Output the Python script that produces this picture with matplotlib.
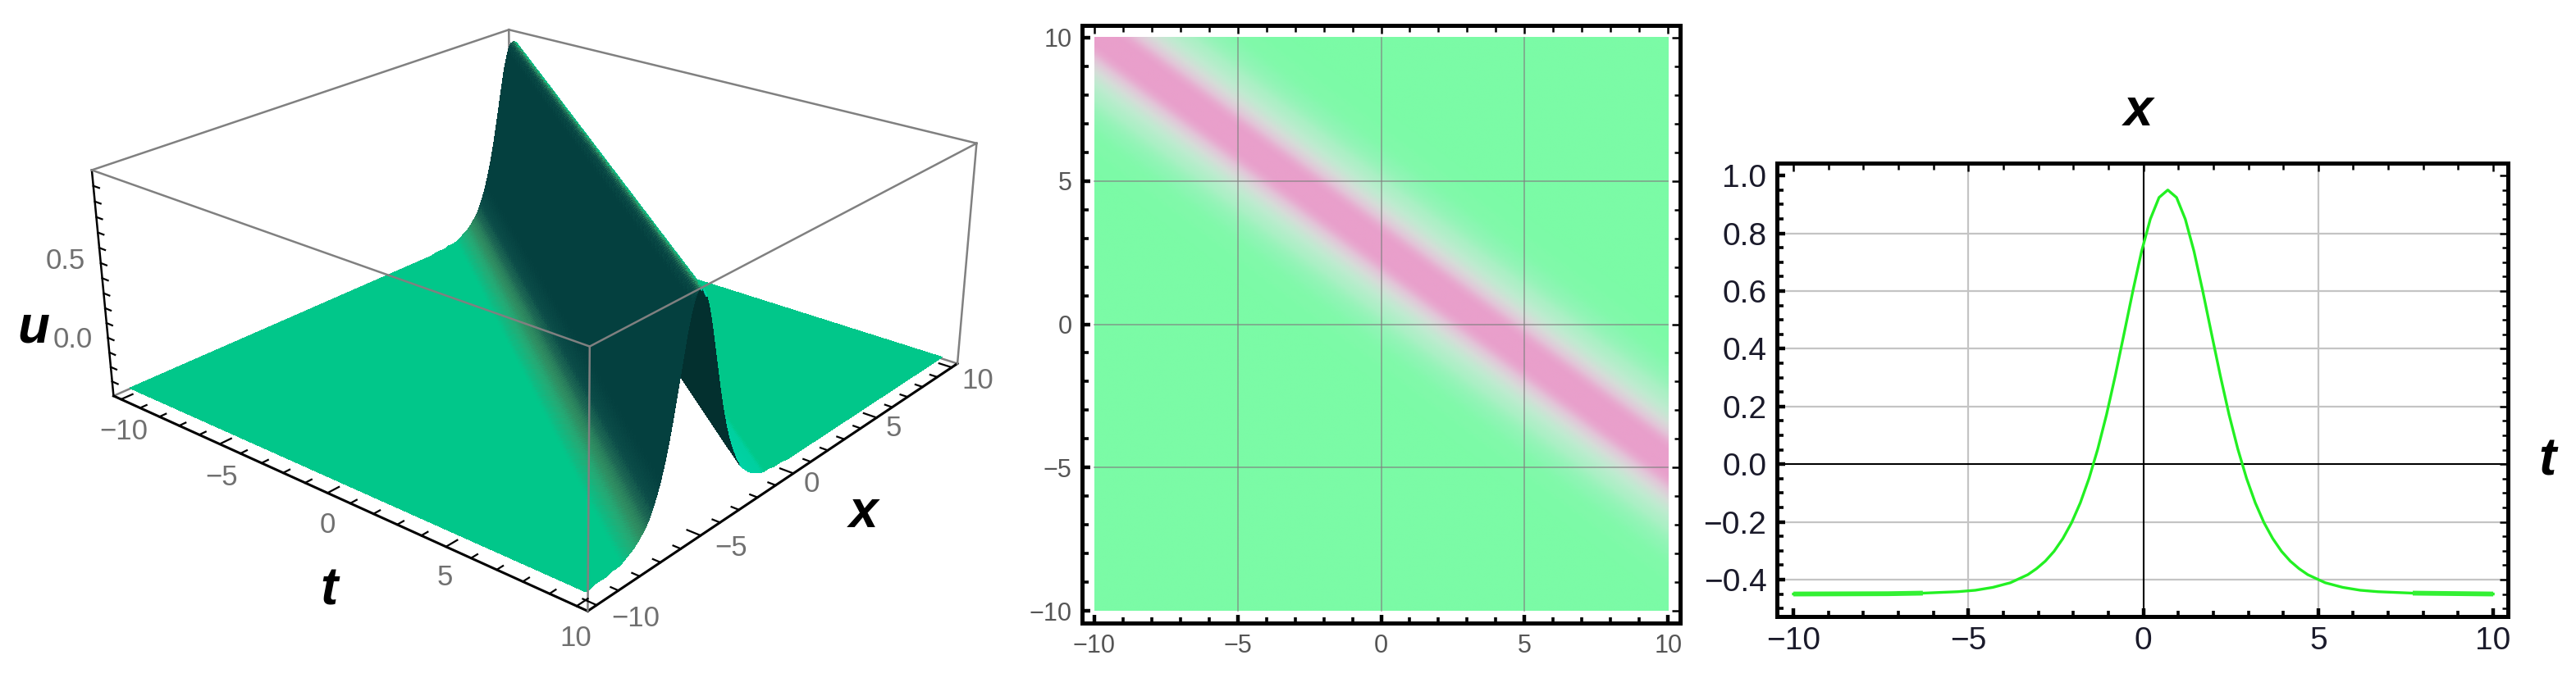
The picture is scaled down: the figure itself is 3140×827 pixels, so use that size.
import numpy as np
import matplotlib
matplotlib.use('Agg')
import matplotlib.pyplot as plt
from matplotlib.colors import LinearSegmentedColormap

plt.rcParams['font.family'] = ['Liberation Sans', 'DejaVu Sans']

W, H = 3140, 827

t_grid = np.arange(-10, 11)
x_grid = np.arange(-10, 11)
n = -.45
u_table = np.array([
    [n, n, n, n, n, n, n, n, n, n, n, n, n, n, n, n, n, n, n, n, n],  # x=-10
    [n, n, n, n, n, n, n, n, n, n, n, n, n, n, n, n, n, n, n, -.44, -.43],
    [n, n, n, n, n, n, n, n, n, n, n, n, n, n, n, n, n, n, -.44, -.43, -.38],
    [n, n, n, n, n, n, n, n, n, n, n, n, n, n, n, n, n, -.44, -.42, -.35, -.18],
    [n, n, n, n, n, n, n, n, n, n, n, n, n, n, n, -.44, -.43, -.40, -.31, -.08, .40],
    [n, n, n, n, n, n, n, n, n, n, n, n, n, n, -.44, -.43, -.38, -.26, .05, .60, .95],  # x=-5
    [n, n, n, n, n, n, n, n, n, n, n, n, n, -.44, -.42, -.35, -.18, .21, .78, .90, .40],
    [n, n, n, n, n, n, n, n, n, n, n, -.44, -.43, -.40, -.31, -.08, .40, .90, .78, .21, -.18],
    [n, n, n, n, n, n, n, n, n, n, -.44, -.43, -.38, -.26, .05, .60, .95, .60, .05, -.26, -.38],
    [n, n, n, n, n, n, n, n, -.45, -.44, -.42, -.35, -.18, .21, .78, .90, .40, -.08, -.31, -.40, -.43],
    [n, n, n, n, n, n, n, -.44, -.43, -.40, -.31, -.08, .40, .90, .78, .21, -.18, -.35, -.42, -.44, n],  # x=0
    [n, n, n, n, n, n, -.44, -.43, -.38, -.26, .05, .60, .95, .60, .05, -.26, -.38, -.43, -.44, n, n],
    [n, n, n, n, -.45, -.44, -.42, -.35, -.18, .21, .78, .90, .40, -.08, -.31, -.40, -.43, -.44, n, n, n],
    [n, n, n, -.44, -.43, -.40, -.31, -.08, .40, .90, .78, .21, -.18, -.35, -.42, -.44, n, n, n, n, n],
    [n, n, -.44, -.43, -.38, -.26, .05, .60, .95, .60, .05, -.26, -.38, -.43, -.44, n, n, n, n, n, n],
    [-.45, -.44, -.42, -.35, -.18, .21, .78, .90, .40, -.08, -.31, -.40, -.43, -.44, n, n, n, n, n, n, n],  # x=5
    [-.43, -.40, -.31, -.08, .40, .90, .78, .21, -.18, -.35, -.42, -.44, n, n, n, n, n, n, n, n, n],
    [-.38, -.26, .05, .60, .95, .60, .05, -.26, -.38, -.43, -.44, n, n, n, n, n, n, n, n, n, n],
    [-.18, .21, .78, .90, .40, -.08, -.31, -.40, -.43, -.44, n, n, n, n, n, n, n, n, n, n, n],
    [.40, .90, .78, .21, -.18, -.35, -.42, -.44, n, n, n, n, n, n, n, n, n, n, n, n, n],
    [.95, .60, .05, -.26, -.38, -.43, -.44, n, n, n, n, n, n, n, n, n, n, n, n, n, n],  # x=10
])

# where the ridge of the table enters and leaves the square
ridge_x = [-5, 10]
ridge_t = [10, -10]
ridge_shift = 0.25  # seen in the density plot, band sits a bit right of the table ridge

# slice shown on the right
t_curve = [-10, -7.3, -6.3, -5.3, -4.8, -4.3, -3.8, -3.3, -3.05, -2.8, -2.55, -2.3, -2.05, -1.8, -1.55, -1.3,
           -1.05, -.8, -.55, -.3, -.05, .2, .45, .7, .95, 1.2, 1.45, 1.7, 1.95, 2.2, 2.45, 2.7, 2.95, 3.2,
           3.45, 3.7, 3.95, 4.2, 4.45, 4.7, 5.2, 5.7, 6.2, 6.7, 7.7, 10]
u_curve = [-.45, -.449, -.447, -.442, -.437, -.427, -.411, -.383, -.362, -.336, -.302, -.258, -.203, -.134, -.049, .053,
           .172, .307, .452, .599, .737, .849, .924, .95, .924, .849, .737, .599, .452, .307, .172, .053, -.049, -.134,
           -.203, -.258, -.302, -.336, -.362, -.383, -.411, -.427, -.437, -.442, -.447, -.45]

major_ticks = [-10, -5, 0, 5, 10]
minor_ticks = list(range(-10, 11))
u_ticks = [-0.4, -0.2, 0.0, 0.2, 0.4, 0.6, 0.8, 1.0]
u_minor = [round(v * 0.05 - 0.5, 2) for v in range(31)]
z_ticks = [0.0, 0.5]
z_minor = [round(v * 0.1 - 0.4, 1) for v in range(14)]


def minus(v):
    return str(v).replace('-', '\u2212')


def place(x0, y0, x1, y1, **kw):
    return fig.add_axes([x0 / W, 1 - y1 / H, (x1 - x0) / W, (y1 - y0) / H], **kw)


def px_text(x, y, s, **kw):
    fig.text(x / W, 1 - y / H, s, **kw)


def frame(ax, size):
    for s in ax.spines.values():
        s.set_linewidth(3.6)
    ax.tick_params(which='major', direction='in', top=True, right=True, length=7.5, width=3.2,
                   labelsize=size, pad=9)
    ax.tick_params(which='minor', direction='in', top=True, right=True, length=5.4, width=2.6)
    # far sides carry thinner marks
    for axis in (ax.xaxis, ax.yaxis):
        for tick in axis.get_major_ticks() + axis.get_minor_ticks():
            tick.tick2line.set_markeredgewidth(1.8)


def smooth(z, k):
    # Catmull-Rom upsampling of a 1d profile, for display only
    m = len(z)
    pos = np.arange((m - 1) * k + 1) / k
    i = np.minimum(pos.astype(int), m - 2)
    f = pos - i
    p = lambda j: z[np.clip(j, 0, m - 1)]
    return ((-.5 * f**3 + f**2 - .5 * f) * p(i - 1) + (1.5 * f**3 - 2.5 * f**2 + 1) * p(i)
            + (-1.5 * f**3 + 2 * f**2 + .5 * f) * p(i + 1) + (.5 * f**3 - .5 * f**2) * p(i + 2))


def ridge(x):
    return ridge_t[0] + (x - ridge_x[0]) * (ridge_t[1] - ridge_t[0]) / (ridge_x[1] - ridge_x[0])


fig = plt.figure(figsize=(W / 100, H / 100), dpi=100)

# cross-section of the ridge, averaged from the table along the ridge direction
Tg, Xg = np.meshgrid(t_grid, x_grid)
d_vals, inv = np.unique(np.round(Tg - ridge(Xg), 3).ravel(), return_inverse=True)
u_prof = np.bincount(inv, weights=u_table.ravel()) / np.bincount(inv)
d_fine = smooth(d_vals, 8)
u_fine = smooth(u_prof, 8)
s_fine = np.convolve(np.gradient(u_fine, d_fine), np.ones(17) / 17, mode='same')
s_fine = np.sign(s_fine) * np.maximum(np.abs(s_fine) - 0.02, 0)

fine = np.linspace(t_grid[0], t_grid[-1], 241)
T, X = np.meshgrid(fine, fine)
dd = T - ridge(X) - ridge_shift
U = np.interp(dd, d_fine, u_fine)
slope = np.interp(dd, d_fine, s_fine)

# ---- 3D surface
# steep far side is seen from below (dark), flat far side is lit, near side goes dark with slope
surf_cmap = LinearSegmentedColormap.from_list('surf', [
    (0.00, '#03302F'), (0.305, '#03302F'), (0.31, '#018A78'), (0.335, '#00D4A8'), (0.47, '#00D0A0'), (0.50, '#00C88A'),
    (0.52, '#06C288'), (0.55, '#22AC76'), (0.59, '#2F8E62'), (0.64, '#1F6A55'), (0.72, '#0B4C48'),
    (0.82, '#04403F'), (1.00, '#04403F')])
colors = surf_cmap(np.clip(slope / 0.5, -1, 1) / 2 + 0.5)

ax3 = fig.add_axes([146.6 / W, -16.6 / H, 1000 / W, 1000 / H], projection='3d', computed_zorder=False)
ax3.patch.set_alpha(0)
lo, hi, zlo, zhi = -10.4, 10.4, -0.5, 1.0
ax3.set_xlim(lo, hi)
ax3.set_ylim(lo, hi)
ax3.set_zlim(zlo, zhi)
ax3.set_box_aspect((1, 0.9927, 0.395), zoom=1.0648)
ax3.view_init(elev=23.33, azim=-49.75, roll=0.17)
ax3.set_proj_type('persp', focal_length=0.4586)
ax3.set_axis_off()

box = dict(color='#808080', lw=1.8, clip_on=False)
for a, b in [((lo, hi, zlo), (lo, hi, zhi)), ((lo, lo, zlo), (lo, hi, zlo)), ((lo, hi, zlo), (hi, hi, zlo))]:
    ax3.plot(*zip(a, b), zorder=0, **box)
surf = ax3.plot_surface(T, X, U, facecolors=colors, shade=False, rstride=1, cstride=1, linewidth=0,
                        antialiased=False, zorder=1)
surf.set_clip_on(False)
ax3.plot([lo, hi], [lo, lo], [zlo, zlo], color='k', lw=2.2, zorder=3, clip_on=False)
ax3.plot([hi, hi], [lo, hi], [zlo, zlo], color='k', lw=2.2, zorder=3, clip_on=False)
ax3.plot([lo, lo], [lo, lo], [zlo, zhi], color='k', lw=1.8, zorder=3, clip_on=False)
for a, b in [((lo, lo, zhi), (hi, lo, zhi)), ((hi, lo, zhi), (hi, hi, zhi)), ((hi, hi, zhi), (lo, hi, zhi)),
             ((lo, hi, zhi), (lo, lo, zhi)), ((hi, lo, zlo), (hi, lo, zhi)), ((hi, hi, zlo), (hi, hi, zhi))]:
    ax3.plot(*zip(a, b), zorder=4, **box)
for v in minor_ticks:
    s = 0.5 if v in major_ticks else 0.28
    ax3.plot([v, v], [lo, lo + s], [zlo, zlo], color='k', lw=1.6, zorder=5, clip_on=False)
    ax3.plot([hi, hi - s], [v, v], [zlo, zlo], color='k', lw=1.6, zorder=5, clip_on=False)
for v in z_minor:
    ax3.plot([lo, lo + 0.3], [lo, lo], [v, v], color='k', lw=1.6, zorder=5, clip_on=False)

tick3d = dict(fontsize=25, color='#707070', ha='center', va='center')
for v, (px, py) in zip(major_ticks, [(151, 527), (270, 582), (399, 640), (542, 705), (702, 778)]):
    px_text(px, py, minus(v), **tick3d)
for v, (px, py) in zip(major_ticks, [(775, 754), (891, 668), (989, 590), (1089, 522), (1192, 464)]):
    px_text(px, py, minus(v), **tick3d)
for v, (px, py) in zip(z_ticks, [(89, 414), (80, 319)]):
    px_text(px, py, f'{v:.1f}', **tick3d)
label = dict(fontsize=46, fontweight='bold', fontstyle='italic', color='k', ha='center', va='center')
px_text(401, 720, 't', **label)
px_text(1053, 626, 'x', **label)
px_text(41, 400, 'u', **label)

# ---- density plot
dens_cmap = LinearSegmentedColormap.from_list('dens', [
    (0.00, '#7BFBA6'), (0.04, '#8CF6B3'), (0.12, '#ABF0C5'), (0.25, '#BFEBD0'), (0.42, '#D5DDD8'),
    (0.62, '#E2C6D8'), (0.80, '#E8A9CF'), (0.92, '#E99FCB'), (1.00, '#E99FCB')])
ax2 = place(1319, 31, 2048, 760)
ax2.imshow(U, origin='lower', extent=(-10, 10, -10, 10), cmap=dens_cmap, vmin=-.45, vmax=.95,
           interpolation='bilinear', aspect='auto')
ax2.set_xlim(-10.42, 10.42)
ax2.set_ylim(-10.42, 10.42)
ax2.set_xticks(major_ticks, [minus(v) for v in major_ticks])
ax2.set_yticks(major_ticks, [minus(v) for v in major_ticks])
ax2.set_xticks(minor_ticks, minor=True)
ax2.set_yticks(minor_ticks, minor=True)
frame(ax2, 22)
ax2.tick_params(labelcolor='#555555')
for v in major_ticks[1:-1]:
    ax2.axvline(v, ymin=0.02, ymax=0.98, color='#808080', lw=1.2, alpha=.7)
    ax2.axhline(v, xmin=0.02, xmax=0.98, color='#808080', lw=1.2, alpha=.7)

# ---- slice plot
ax1 = place(2166, 199, 3057, 752)
ax1.plot(t_curve, u_curve, color='#22F022', lw=2.4, solid_joinstyle='round', zorder=3)
ax1.plot(t_curve[:3], u_curve[:3], color='#33F033', lw=4.2, solid_capstyle='butt', zorder=3)
ax1.plot(t_curve[-2:], u_curve[-2:], color='#33F033', lw=4.2, solid_capstyle='butt', zorder=3)
ax1.set_xlim(-10.47, 10.42)
ax1.set_ylim(-.528, 1.043)
ax1.set_xticks(major_ticks, [minus(v) for v in major_ticks])
ax1.set_yticks(u_ticks, [minus(f'{v:.1f}') for v in u_ticks])
ax1.set_xticks(minor_ticks, minor=True)
ax1.set_yticks(u_minor, minor=True)
frame(ax1, 28)
ax1.tick_params(labelcolor='#1a1a2a')
for v in [-5, 5]:
    ax1.axvline(v, color='#c4c4c4', lw=1.6, zorder=1)
for v in u_ticks:
    if v not in (0.0, 1.0):
        ax1.axhline(v, color='#c4c4c4', lw=1.6, zorder=1)
ax1.axvline(0, color='k', lw=1.5, zorder=2)
ax1.axhline(0, color='k', lw=1.5, zorder=2)
px_text(2607, 136, 'x', **label)
px_text(3105, 563, 't', **label)

fig.savefig('out.png', dpi=100)
